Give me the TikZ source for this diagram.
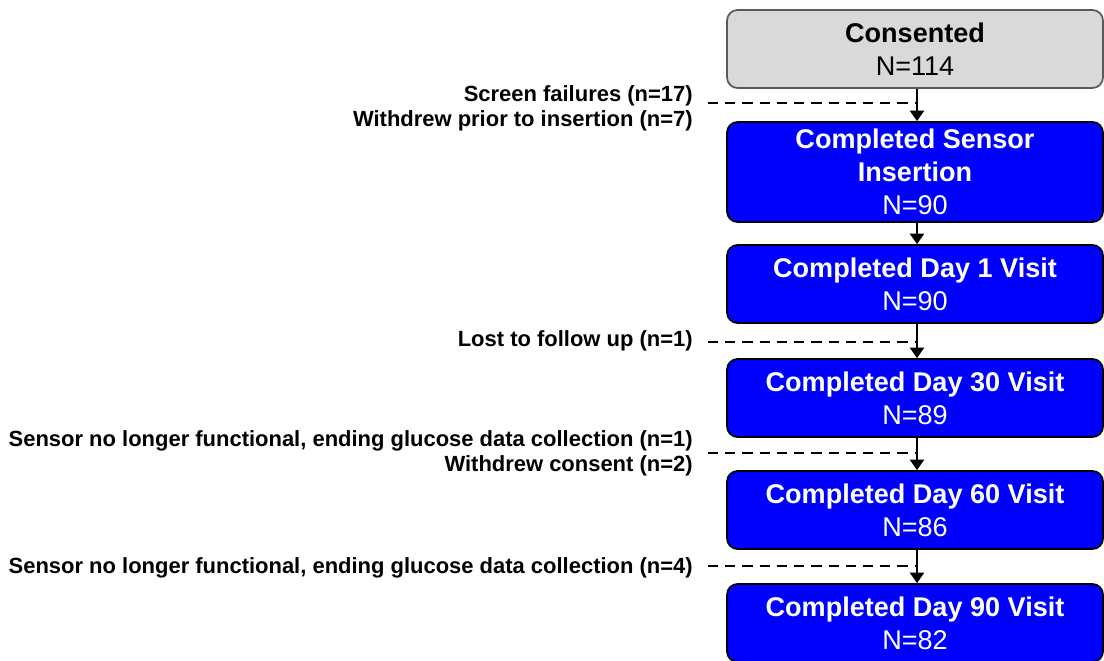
\documentclass[tikz,border=0pt]{standalone}
\usepackage{fontspec}
\setmainfont{Liberation Sans}
\usetikzlibrary{arrows.meta}
\definecolor{boxblue}{HTML}{0000FF}
\definecolor{boxgray}{HTML}{D9D9D9}
\definecolor{graydraw}{HTML}{5A5A5A}
\tikzset{
  stagebox/.style={draw=black, line width=1pt, rounded corners=6pt, fill=boxblue,
    text=white, minimum width=7.52cm, align=center, inner sep=0pt,
    font=\fontsize{15.4}{18.7}\selectfont},
  startbox/.style={stagebox, fill=boxgray, draw=graydraw, text=black},
  exitlabel/.style={anchor=east, align=right, inner sep=0pt,
    font=\fontsize{12.5}{14.3}\selectfont\bfseries},
  flow/.style={line width=1.3pt, -{Triangle[width=8pt,length=6pt]}},
  exitline/.style={line width=1.4pt, dash pattern=on 5.8pt off 4pt}
}
\begin{document}
\begin{tikzpicture}[x=0.02cm, y=-0.02cm]
  \useasboundingbox (0,0) rectangle (1104,661);
  \clip (0,0) rectangle (1104,661);

  % enrolment stages
  \node[startbox, minimum height=1.56cm] (consent) at (915,49)
    {\textbf{Consented}\\N=114};
  \node[stagebox, minimum height=2.0cm] (insert) at (915,172)
    {\textbf{Completed Sensor}\\\textbf{Insertion}\\N=90};
  \node[stagebox, minimum height=1.56cm] (day1) at (915,284)
    {\textbf{Completed Day 1 Visit}\\N=90};
  \node[stagebox, minimum height=1.56cm] (day30) at (915,398)
    {\textbf{Completed Day 30 Visit}\\N=89};
  \node[stagebox, minimum height=1.56cm] (day60) at (915,510)
    {\textbf{Completed Day 60 Visit}\\N=86};
  \node[stagebox, minimum height=1.56cm] (day90) at (915,623)
    {\textbf{Completed Day 90 Visit}\\N=82};

  % main flow, running just right of the box centres
  \draw[flow] ([xshift=0.04cm]consent.south) -- ([xshift=0.04cm]insert.north);
  \draw[flow] ([xshift=0.04cm]insert.south) -- ([xshift=0.04cm]day1.north);
  \draw[flow] ([xshift=0.04cm]day1.south) -- ([xshift=0.04cm]day30.north);
  \draw[flow] ([xshift=0.04cm]day30.south) -- ([xshift=0.04cm]day60.north);
  \draw[flow] ([xshift=0.04cm]day60.south) -- ([xshift=0.04cm]day90.north);

  % junctions where exclusions leave the flow
  \coordinate (j1) at (917,103);
  \coordinate (j2) at (917,342);
  \coordinate (j3) at (917,453);
  \coordinate (j4) at (917,566);

  % exclusion labels
  \node[exitlabel] (ex1) at (693,108)
    {Screen failures (n=17)\\Withdrew prior to insertion (n=7)};
  \node[exitlabel] (ex2) at (693,341) {Lost to follow up (n=1)};
  \node[exitlabel] (ex3) at (693,453)
    {Sensor no longer functional, ending glucose data collection (n=1)\\Withdrew consent (n=2)};
  \node[exitlabel] (ex4) at (693,568)
    {Sensor no longer functional, ending glucose data collection (n=4)};

  % exclusion connectors
  \draw[exitline] ([xshift=0.3cm]ex1.east |- j1) -- (j1);
  \draw[exitline] ([xshift=0.3cm]ex2.east |- j2) -- (j2);
  \draw[exitline] ([xshift=0.3cm]ex3.east |- j3) -- (j3);
  \draw[exitline] ([xshift=0.3cm]ex4.east |- j4) -- (j4);
\end{tikzpicture}
\end{document}
